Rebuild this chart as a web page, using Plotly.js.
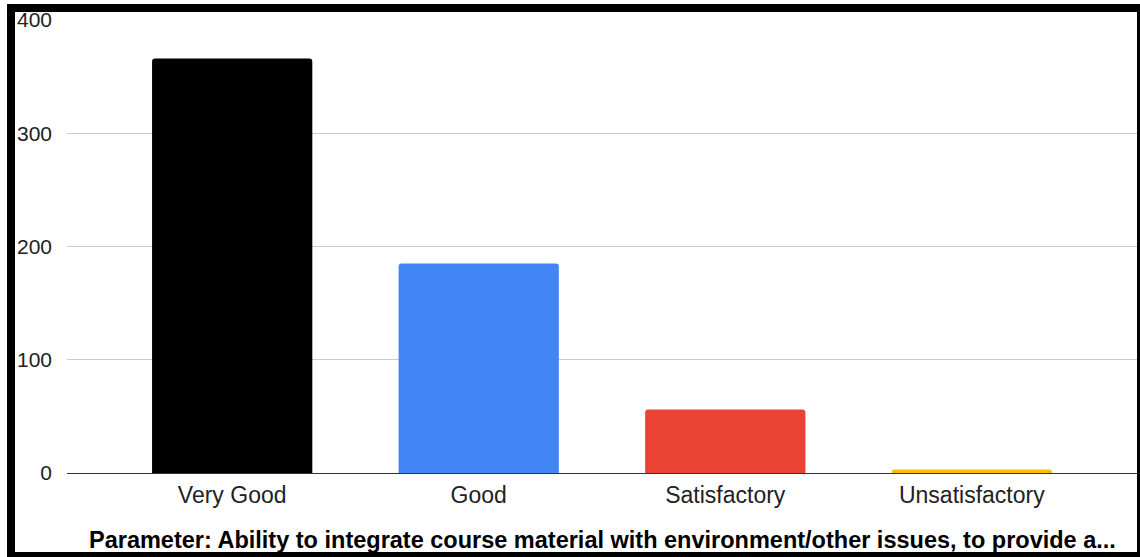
<!DOCTYPE html>
<html>
<head>
<meta charset="utf-8">
<script src="https://cdn.plot.ly/plotly-3.0.1.min.js"></script>
<style>
  html, body { margin: 0; padding: 0; width: 1140px; height: 557px; overflow: hidden; background: #fff; }
  #chart { position: absolute; left: 0; top: 0; width: 1140px; height: 557px; }
  #frame { position: absolute; left: 7px; top: 4px; width: 1138px; height: 556px; box-sizing: border-box;
           border: 8px solid #000; pointer-events: none; }
</style>
</head>
<body>
<div id="chart"></div>
<div id="frame"></div>
<script>
const categories = ["Very Good", "Good", "Satisfactory", "Unsatisfactory"];
const counts = [366, 185, 56, 3];
const barColors = ["#000000", "#4285F4", "#EA4335", "#FBBC04"];
const yTicks = [0, 100, 200, 300, 400];
const chartTitle = "Parameter: Ability to integrate course material with environment/other issues, to provide a...";

const trace = {
  type: "bar",
  x: categories,
  y: counts,
  marker: { color: barColors, line: { width: 0 } },
  hoverinfo: "x+y"
};

const layout = {
  width: 1140,
  height: 557,
  margin: { l: 67, r: 3, t: 20, b: 84 },
  paper_bgcolor: "rgba(0,0,0,0)",
  plot_bgcolor: "#ffffff",
  font: { family: "Liberation Sans, Arial, sans-serif", color: "#222222" },
  bargap: 0.35,
  barcornerradius: 3,
  showlegend: false,
  xaxis: {
    type: "category",
    range: [-0.67, 3.67],
    showgrid: false,
    showline: false,
    zeroline: false,
    ticks: "",
    ticklabelstandoff: 6,
    tickfont: { size: 23, color: "#222222" },
    fixedrange: true
  },
  yaxis: {
    range: [0, 400],
    tickvals: yTicks,
    ticktext: yTicks.map(String),
    showgrid: true,
    gridcolor: "#cccccc",
    gridwidth: 1,
    zeroline: true,
    zerolinecolor: "#333333",
    zerolinewidth: 1,
    showline: false,
    ticks: "",
    ticklabelstandoff: 14,
    tickfont: { size: 21, color: "#222222" },
    fixedrange: true
  },
  annotations: [{
    text: "<b>" + chartTitle + "</b>",
    xref: "paper", yref: "paper",
    x: 0.5, y: -0.148,
    xanchor: "center", yanchor: "middle",
    showarrow: false,
    font: { size: 23.5, color: "#000000", family: "Liberation Sans, Arial, sans-serif" }
  }]
};

Plotly.newPlot("chart", [trace], layout, { displayModeBar: false, staticPlot: true });
</script>
</body>
</html>
